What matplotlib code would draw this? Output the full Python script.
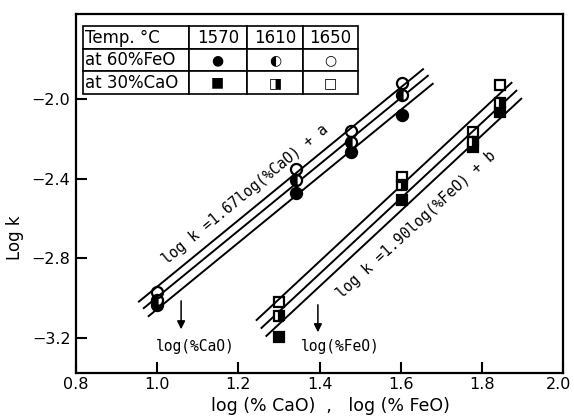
import numpy as np
import matplotlib
matplotlib.use("Agg")
import matplotlib.pyplot as plt
from matplotlib.transforms import ScaledTranslation

# log k vs log(%CaO) at 60% FeO, three temperatures
cao_x = [1.000, 1.342, 1.477, 1.602]
cao_1570 = [-3.034, -2.470, -2.264, -2.078]
cao_1610 = [-3.009, -2.405, -2.214, -1.977]
cao_1650 = [-2.969, -2.350, -2.158, -1.917]

# log k vs log(%FeO) at 30% CaO
feo_x = [1.301, 1.602, 1.778, 1.845]
feo_1570 = [-3.195, -2.506, -2.239, -2.063]
feo_1610 = [-3.089, -2.430, -2.214, -2.018]
feo_1650 = [-3.019, -2.390, -2.164, -1.927]

slope_cao = 1.67
slope_feo = 1.90
temps = ["1570", "1610", "1650"]

xticks = [0.8, 1.0, 1.2, 1.4, 1.6, 1.8, 2.0]
yticks = [-2.0, -2.4, -2.8, -3.2]

plt.rcParams['font.family'] = 'DejaVu Sans'
fig = plt.figure(figsize=(5.74, 4.19), dpi=100)
ax = fig.add_axes([0.1324, 0.1098, 0.8485, 0.8568])

fills = ['full', 'left', 'none']
ext_cao = [(0.979, 1.679), (0.967, 1.667), (0.955, 1.655)]
ext_feo = [(1.269, 1.897), (1.257, 1.885), (1.245, 1.873)]


def fit_line(xs, ys, slope):
    # intercept with fixed slope
    return np.mean(np.array(ys) - slope * np.array(xs))


for ys, fs, ext in zip([cao_1570, cao_1610, cao_1650], fills, ext_cao):
    b = fit_line(cao_x, ys, slope_cao)
    xl = np.array(ext)
    ax.plot(xl, slope_cao * xl + b, color='black', lw=1.4, zorder=2)
    ax.plot(cao_x, ys, 'o', ms=8, fillstyle=fs, color='black',
            markerfacecoloralt='white', markeredgewidth=1.6, zorder=3,
            markerfacecolor='black' if fs != 'none' else 'white')

for ys, fs, ext in zip([feo_1570, feo_1610, feo_1650], fills, ext_feo):
    b = fit_line(feo_x, ys, slope_feo)
    xl = np.array(ext)
    ax.plot(xl, slope_feo * xl + b, color='black', lw=1.4, zorder=2)
    sfs = {'full': 'full', 'left': 'right', 'none': 'none'}[fs]
    ax.plot(feo_x, ys, 's', ms=7.5, fillstyle=sfs, color='black',
            markerfacecoloralt='white', markeredgewidth=1.6, zorder=3,
            markerfacecolor='black' if sfs != 'none' else 'white')

# equations along the lines
mono = 'DejaVu Sans Mono'
ax.text(1.216, -2.48, "log k =1.67log(%CaO) + a", rotation=39.5,
        ha='center', va='center', fontsize=10.5, family=mono,
        rotation_mode='anchor')
ax.text(1.638, -2.631, "log k =1.90log(%FeO) + b", rotation=42.5,
        ha='center', va='center', fontsize=10.5, family=mono,
        rotation_mode='anchor')

# arrows pointing to the variable names
ax.annotate("", xy=(1.059, -3.17), xytext=(1.059, -2.999),
            arrowprops=dict(arrowstyle='-|>', color='black', lw=1.1,
                            mutation_scale=12))
ax.text(1.093, -3.245, "log(%CaO)", ha='center', va='center',
        fontsize=10.5, family=mono)
ax.annotate("", xy=(1.396, -3.185), xytext=(1.396, -3.019),
            arrowprops=dict(arrowstyle='-|>', color='black', lw=1.1,
                            mutation_scale=12))
ax.text(1.45, -3.245, "log(%FeO)", ha='center', va='center',
        fontsize=10.5, family=mono)

# legend table
cells = [["Temp. °C"] + temps,
         ["at 60%FeO", "●", "◐", "○"],
         ["at 30%CaO", "■", "◨", "□"]]
tab = ax.table(cellText=cells, colWidths=[0.385, 0.211, 0.204, 0.2],
               bbox=[0.014, 0.777, 0.565, 0.189], cellLoc='center')
tab.auto_set_font_size(False)
for (r, c), cell in tab.get_celld().items():
    cell.set_linewidth(1.2)
    cell.set_edgecolor('black')
    cell.PAD = 0.02
    cell.get_text().set_fontsize(12)
    if c == 0:
        cell.get_text().set_ha('left')
        cell._loc = 'left'
    if c > 0 and r > 0:
        cell.get_text().set_fontsize(10)
tab.set_zorder(5)

ax.set_xlim(0.8, 2.0)
ax.set_ylim(-3.376, -1.57)
ax.set_xticks(xticks)
ax.set_xticklabels([f"{v:.1f}" for v in xticks])
ax.set_yticks(yticks)
ax.set_yticklabels([f"\u2212{abs(v):.1f}" for v in yticks])
ax.tick_params(direction='in', length=8, width=1.5, labelsize=11.5, pad=4)
ax.tick_params(axis='x', pad=3)
for sp in ax.spines.values():
    sp.set_linewidth(1.6)

# keep the last x label inside the canvas
last = ax.get_xticklabels()[-1]
last.set_transform(last.get_transform() +
                   ScaledTranslation(-4 / 100, 0, fig.dpi_scale_trans))

fig.text(15 / 574, 1 - 238 / 419, "Log k", rotation=90, ha='center',
         va='center', fontsize=12)
fig.text(330 / 574, 1 - 406 / 419, "log (% CaO)  ,   log (% FeO)",
         ha='center', va='center', fontsize=12.5)

fig.savefig("out.png", dpi=100)
